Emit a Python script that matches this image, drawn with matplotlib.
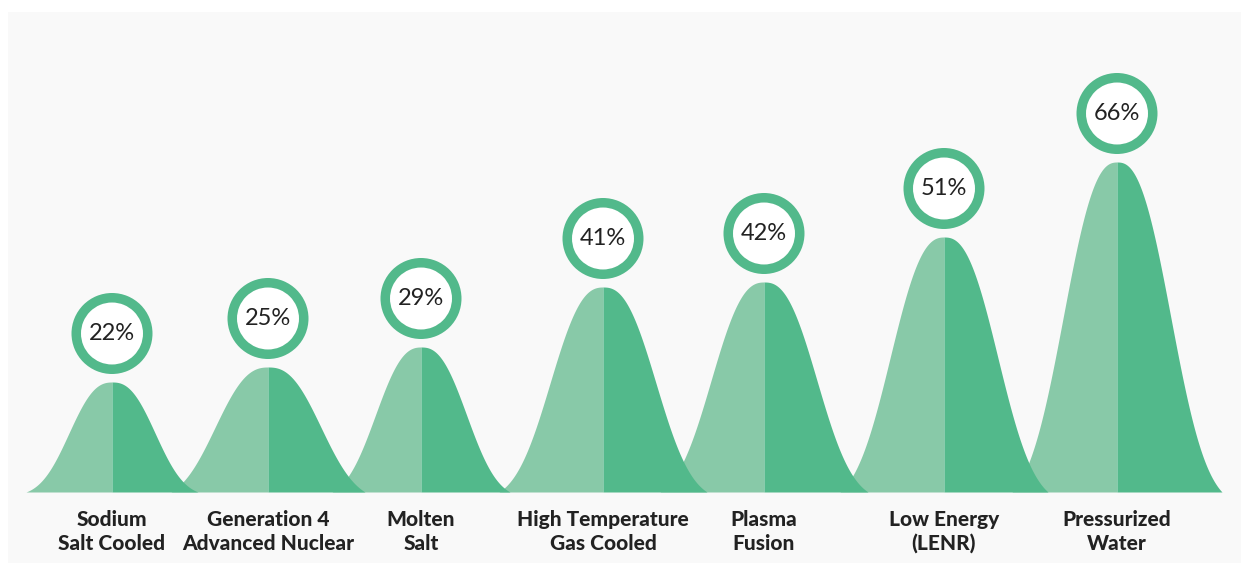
import matplotlib.pyplot as plt
import numpy as np
from matplotlib.patches import Rectangle, Circle, Wedge

plt.rcParams['font.family'] = ['Lato', 'DejaVu Sans']

# reactor types and their share (%)
labels = ['Sodium\nSalt Cooled', 'Generation 4\nAdvanced Nuclear', 'Molten\nSalt',
          'High Temperature\nGas Cooled', 'Plasma\nFusion', 'Low Energy\n(LENR)',
          'Pressurized\nWater']
values = [22, 25, 29, 41, 42, 51, 66]

# layout: peak centres, bell widths and base half-widths (px)
centers = [112, 268, 421, 603, 764, 944, 1117]
widths = [53, 65, 56, 65, 65, 66, 66]
half_base = [86, 97, 89, 104, 104, 104, 105]

LIGHT = '#88c9a8'
DARK = '#52b98b'
TEXT = '#222222'
SCALE = 5.0  # px per percent
BASE = 492   # baseline, px from top

W, H = 1241, 563
fig = plt.figure(figsize=(W / 100, H / 100), dpi=100)
fig.patch.set_facecolor('white')
ax = fig.add_axes([0, 0, 1, 1])
ax.set_xlim(0, W)
ax.set_ylim(BASE - H, BASE)
ax.axis('off')

# light grey panel
ax.add_patch(Rectangle((8, BASE - H), W - 8, H - 12, facecolor='#f9f9f9',
                       edgecolor='none', zorder=0))


def bell(x, a, hb):
    y = np.exp(-np.abs(x / a) ** 2.5)
    end = np.exp(-(hb / a) ** 2.5)
    return np.clip((y - end) / (1 - end), 0, None)


n = len(values)
for i, (cx, v, a, hb) in enumerate(zip(centers, values, widths, half_base)):
    h = v * SCALE
    z = 10 + (n - i) * 2
    xl = np.linspace(-hb, 0, 300)
    xr = np.linspace(0, hb, 300)
    ax.fill_between(cx + xl, 0, h * bell(xl, a, hb), color=LIGHT, lw=0, zorder=z)
    ax.fill_between(cx + xr, 0, h * bell(xr, a, hb), color=DARK, lw=0, zorder=z + 1)

    # ring with the value
    cy = h + 48.5
    ax.add_patch(Circle((cx, cy), 31, facecolor='white', edgecolor='none', zorder=30))
    ax.add_patch(Wedge((cx, cy), 40.5, 0, 360, width=9.5, facecolor=DARK,
                       edgecolor='none', zorder=31))
    ax.text(cx, cy, f'{v}%', ha='center', va='center', fontsize=17,
            color=TEXT, zorder=32)

    # category label
    ax.text(cx, -39.5, labels[i], ha='center', va='center', fontsize=15,
            fontweight='black', color=TEXT, linespacing=1.3, zorder=32)

fig.savefig('out.png', dpi=100, facecolor='white')
